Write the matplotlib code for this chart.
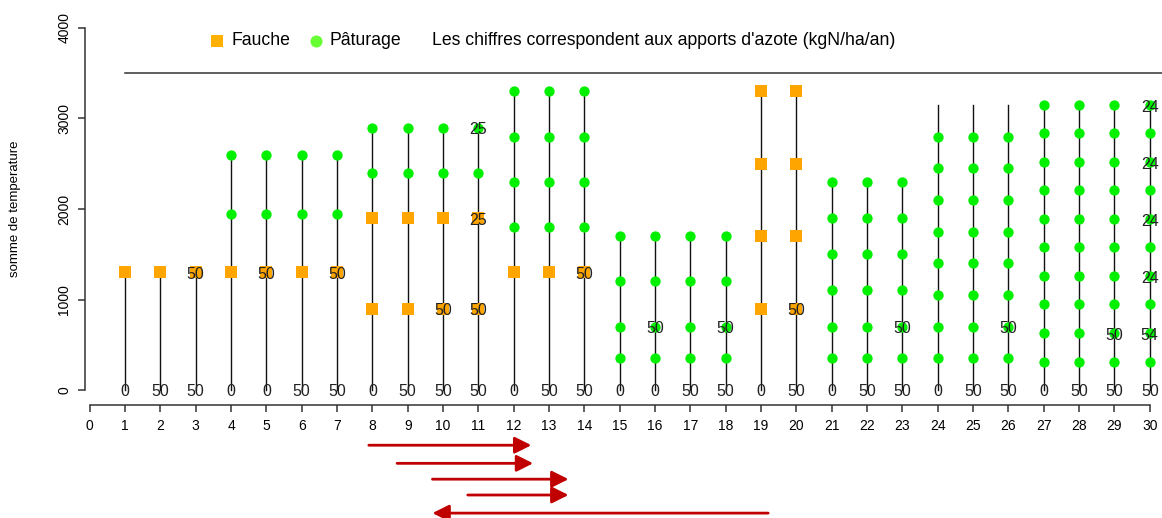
import matplotlib.pyplot as plt

plt.rcParams['font.family'] = ['Liberation Sans', 'DejaVu Sans']

# positions 1..30 on the x axis
positions = list(range(1, 31))

# fauche (mowing) points per position
fauche = {
    1: [1300], 2: [1300], 3: [1300], 4: [1300], 5: [1300], 6: [1300], 7: [1300],
    8: [900, 1900], 9: [900, 1900], 10: [900, 1900], 11: [900, 1900],
    12: [1300], 13: [1300], 14: [1300],
    19: [900, 1700, 2500, 3300], 20: [900, 1700, 2500, 3300],
}

# paturage (grazing) points per position
pat_4 = [1950, 2600]
pat_8 = [2400, 2900]
pat_12 = [1800, 2300, 2800, 3300]
pat_15 = [350, 700, 1200, 1700]
pat_21 = [350, 700, 1100, 1500, 1900, 2300]
pat_24 = [350, 700, 1050, 1400, 1750, 2100, 2450, 2800]
pat_27 = [315, 630, 945, 1260, 1575, 1890, 2205, 2520, 2835, 3150]
paturage = {}
for p in [4, 5, 6, 7]:
    paturage[p] = pat_4
for p in [8, 9, 10, 11]:
    paturage[p] = pat_8
for p in [12, 13, 14]:
    paturage[p] = pat_12
for p in [15, 16, 17, 18]:
    paturage[p] = pat_15
for p in [21, 22, 23]:
    paturage[p] = pat_21
for p in [24, 25, 26]:
    paturage[p] = pat_24
for p in [27, 28, 29, 30]:
    paturage[p] = pat_27

# top of each vertical line
tops = [1300, 1300, 1300, 2600, 2600, 2600, 2600, 2900, 2900, 2900, 2900,
        3300, 3300, 3300, 1700, 1700, 1700, 1700, 3300, 3300,
        2300, 2300, 2300, 3150, 3150, 3150, 3150, 3150, 3150, 3150]

# nitrogen inputs written at the foot of each line
base_labels = ['0', '50', '50', '0', '0', '50', '50', '0', '50', '50', '50',
               '0', '50', '50', '0', '0', '50', '50', '0', '50',
               '0', '50', '50', '0', '50', '50', '0', '50', '50', '50']

# nitrogen inputs written on the points: (position, value, text)
point_labels = [
    (3, 1300, '50'), (5, 1300, '50'), (7, 1300, '50'),
    (10, 900, '50'), (11, 900, '50'), (11, 1900, '25'), (11, 2900, '25'),
    (14, 1300, '50'), (16, 700, '50'), (18, 700, '50'), (20, 900, '50'),
    (23, 700, '50'), (26, 700, '50'), (29, 630, '50'),
    (30, 630, '54'), (30, 1260, '24'), (30, 1890, '24'), (30, 2520, '24'), (30, 3150, '24'),
]

# rotation arrows below the axis: (start, end, level)
arrows = [(7.9, 12.5, -610), (8.7, 12.55, -810), (9.7, 13.55, -985),
          (10.7, 13.55, -1160), (19.2, 9.7, -1360)]

fig = plt.figure(figsize=(11.62, 5.18), dpi=100)
ax = fig.add_axes([0, 0, 1, 1])
ax.set_xlim(-2.537, 30.345)
ax.set_ylim(-1414, 4309)
ax.patch.set_visible(False)

for p, t in zip(positions, tops):
    ax.plot([p, p], [0, t], color='#111111', lw=1.0, zorder=1)

for p, vals in paturage.items():
    ax.scatter([p] * len(vals), vals, s=55, color='#00f000', marker='o',
               linewidths=0, zorder=2)
for p, vals in fauche.items():
    ax.scatter([p] * len(vals), vals, s=85, color='#ffa500', marker='s',
               linewidths=0, zorder=3)

for p, lab in zip(positions, base_labels):
    ax.text(p, -20, lab, ha='center', va='center', fontsize=11.5, color='#222222', zorder=4)
for p, v, lab in point_labels:
    ax.text(p, v - 25, lab, ha='center', va='center', fontsize=11.5, color='#222222', zorder=4)

ax.plot([1, 30.5], [3500, 3500], color='#333333', lw=1.1)

# legend line at the top
ax.scatter([3.6], [3860], s=85, color='#ffb000', marker='s', linewidths=0)
ax.text(4.0, 3860, 'Fauche', ha='left', va='center', fontsize=12.7)
ax.scatter([6.4], [3860], s=75, color='#66ff33', marker='o', linewidths=0)
ax.text(6.8, 3860, 'Pâturage', ha='left', va='center', fontsize=12.7)
ax.text(9.7, 3860, "Les chiffres correspondent aux apports d'azote (kgN/ha/an)",
        ha='left', va='center', fontsize=12.7)

for x0, x1, y in arrows:
    ax.annotate('', xy=(x1, y), xytext=(x0, y),
                arrowprops=dict(arrowstyle='-|>,head_length=0.5,head_width=0.25',
                                color='#c00000', lw=2, mutation_scale=20,
                                shrinkA=0, shrinkB=0))

for s in ['top', 'right']:
    ax.spines[s].set_visible(False)
ax.spines['left'].set_position(('data', -0.13))
ax.spines['left'].set_bounds(0, 4000)
ax.spines['bottom'].set_position(('data', -166))
ax.spines['bottom'].set_bounds(0, 30)
for s in ['left', 'bottom']:
    ax.spines[s].set_color('#333333')
    ax.spines[s].set_linewidth(1.1)

ax.set_xticks(range(0, 31))
ax.set_yticks([0, 1000, 2000, 3000, 4000])
ax.tick_params(axis='both', direction='out', length=5, width=1.1, color='#333333',
               labelsize=10, pad=5)
for lab in ax.get_yticklabels():
    lab.set_rotation(90)
    lab.set_va('center')
ax.text(-2.1, 2000, 'somme de temperature', rotation=90, ha='center', va='center',
        fontsize=9.5)

fig.savefig('out.png', dpi=100)
